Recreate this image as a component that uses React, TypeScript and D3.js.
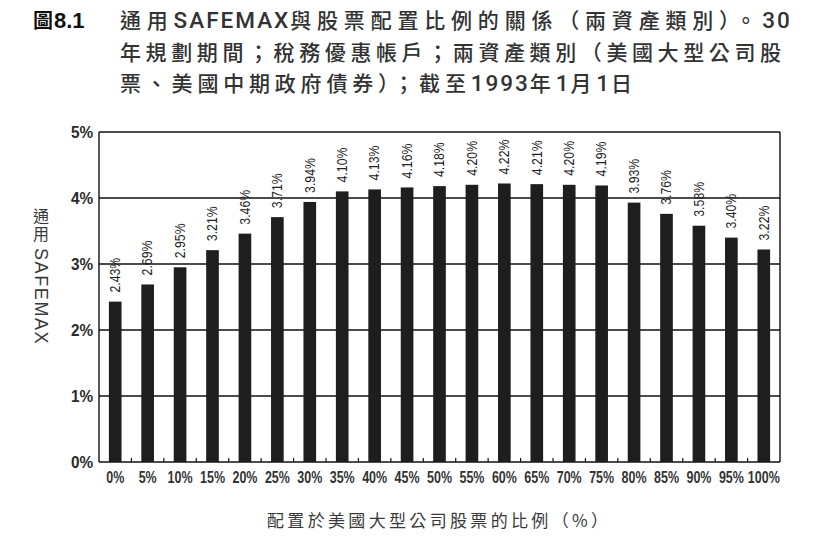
import React, { useEffect, useRef } from 'react';
import * as d3 from 'd3';

// stock share of the portfolio (x categories)
const allocations = ['0%', '5%', '10%', '15%', '20%', '25%', '30%', '35%', '40%', '45%', '50%',
  '55%', '60%', '65%', '70%', '75%', '80%', '85%', '90%', '95%', '100%'];

// universal SAFEMAX in percent for each allocation
const safemax = [2.43, 2.69, 2.95, 3.21, 3.46, 3.71, 3.94, 4.10, 4.13, 4.16, 4.18,
  4.20, 4.22, 4.21, 4.20, 4.19, 3.93, 3.76, 3.58, 3.40, 3.22];

const yTicks = [0, 1, 2, 3, 4, 5];

// caption lines, split into CJK runs and latin/digit runs
const titleLines = [
  ['通用', 'SAFEMAX', '與股票配置比例的關係（兩資產類別）。', '30'],
  ['年規劃期間；稅務優惠帳戶；兩資產類別（美國大型公司股'],
  ['票、美國中期政府債券）；截至', '1993', '年', '1', '月', '1', '日'],
];
const titleCjkSpacing = [5.8, 4.6, 4.8];

const xTitle = '配置於美國大型公司股票的比例（%）';
const yTitleCjk = '通用';
const yTitleLatin = 'SAFEMAX';

const sans = '"Liberation Sans", Arial, sans-serif';
const cjk = '"Noto Sans CJK TC", "Noto Sans CJK SC", sans-serif';
const isLatin = (s: string) => /^[A-Za-z0-9.]+$/.test(s);

const App = () => {
  const svgRef = useRef<SVGSVGElement>(null);

  useEffect(() => {
    const width = 814;
    const height = 543;
    const plot = { left: 99, right: 780, top: 132, bottom: 462 };

    const svg = d3.select(svgRef.current);
    svg.selectAll('*').remove();
    svg.attr('viewBox', [0, 0, width, height]);

    svg.append('rect').attr('width', width).attr('height', height).attr('fill', '#fff');

    // figure number
    const fig = svg.append('text')
      .attr('x', 33)
      .attr('y', 28)
      .attr('font-weight', 700)
      .attr('fill', '#111');
    fig.append('tspan').attr('font-family', cjk).attr('font-size', 20).text('圖');
    fig.append('tspan').attr('font-family', sans).attr('font-size', 22).attr('dx', 1).text('8.1');

    // caption
    titleLines.forEach((runs, i) => {
      const t = svg.append('text')
        .attr('x', 120)
        .attr('y', 28 + i * 31.5)
        .attr('font-size', 21)
        .attr('font-weight', 500)
        .attr('fill', '#333');
      runs.forEach(run => {
        const latin = isLatin(run);
        t.append('tspan')
          .attr('font-family', latin ? '"Roboto", sans-serif' : cjk)
          .attr('font-size', latin ? 22.5 : 21)
          .attr('letter-spacing', latin ? 2 : titleCjkSpacing[i])
          .text(run);
      });
    });

    const x = d3.scaleBand()
      .domain(allocations)
      .range([plot.left, plot.right])
      .paddingInner(0.61)
      .paddingOuter(0.305);

    const y = d3.scaleLinear()
      .domain([0, 5])
      .range([plot.bottom, plot.top]);

    // horizontal grid lines (the 0% and 5% ones form the frame)
    svg.append('g')
      .selectAll('line')
      .data(yTicks)
      .join('line')
      .attr('x1', plot.left)
      .attr('x2', plot.right)
      .attr('y1', d => y(d))
      .attr('y2', d => y(d))
      .attr('stroke', '#111')
      .attr('stroke-width', 1.4);

    // bars
    svg.append('g')
      .selectAll('rect')
      .data(safemax)
      .join('rect')
      .attr('x', (d, i) => x(allocations[i]))
      .attr('y', d => y(d))
      .attr('width', x.bandwidth())
      .attr('height', d => y(0) - y(d))
      .attr('fill', '#1e1e1e');

    // side borders
    [plot.left, plot.right].forEach(px => {
      svg.append('line')
        .attr('x1', px).attr('x2', px)
        .attr('y1', plot.top).attr('y2', plot.bottom)
        .attr('stroke', '#111')
        .attr('stroke-width', 1.4);
    });

    // small inward ticks between categories
    svg.append('g')
      .selectAll('line')
      .data(allocations.slice(1))
      .join('line')
      .attr('x1', (d, i) => plot.left + (i + 1) * x.step())
      .attr('x2', (d, i) => plot.left + (i + 1) * x.step())
      .attr('y1', plot.bottom)
      .attr('y2', plot.bottom - 4)
      .attr('stroke', '#111')
      .attr('stroke-width', 1.2);

    // value labels above bars, rotated and condensed
    svg.append('g')
      .selectAll('text')
      .data(safemax)
      .join('text')
      .attr('transform', (d, i) =>
        `translate(${x(allocations[i]) + x.bandwidth() / 2},${y(d) - 9}) rotate(-90) scale(0.85,1)`)
      .attr('dominant-baseline', 'central')
      .attr('font-family', sans)
      .attr('font-size', 14.5)
      .attr('fill', '#222')
      .text(d => `${d.toFixed(2)}%`);

    // y tick labels
    svg.append('g')
      .selectAll('text')
      .data(yTicks)
      .join('text')
      .attr('transform', d => `translate(93,${y(d)}) scale(0.9,1)`)
      .attr('text-anchor', 'end')
      .attr('dominant-baseline', 'central')
      .attr('font-family', sans)
      .attr('font-size', 17)
      .attr('font-weight', 700)
      .attr('fill', '#2a2a2a')
      .text(d => `${d}%`);

    // x tick labels
    svg.append('g')
      .selectAll('text')
      .data(allocations)
      .join('text')
      .attr('transform', d => `translate(${x(d) + x.bandwidth() / 2},483) scale(0.78,1)`)
      .attr('text-anchor', 'middle')
      .attr('font-family', sans)
      .attr('font-size', 16)
      .attr('font-weight', 700)
      .attr('fill', '#333')
      .text(d => d);

    // axis titles
    svg.append('text')
      .attr('x', 267)
      .attr('y', 527)
      .attr('font-family', cjk)
      .attr('font-size', 17)
      .attr('fill', '#3a3a3a')
      .attr('textLength', 341)
      .attr('lengthAdjust', 'spacing')
      .text(xTitle);

    // y title in vertical writing: CJK upright, latin turned
    const yt = svg.append('text')
      .attr('x', 41)
      .attr('y', 208)
      .style('writing-mode', 'vertical-rl')
      .attr('font-family', cjk)
      .attr('font-size', 16)
      .attr('fill', '#3a3a3a');
    yt.append('tspan').attr('letter-spacing', 2).text(yTitleCjk);
    yt.append('tspan')
      .attr('dy', 4)
      .attr('font-family', sans)
      .attr('font-size', 18)
      .attr('letter-spacing', 1.6)
      .text(yTitleLatin);
  });

  return (
    <svg
      ref={svgRef}
      width={814}
      height={543}
      style={{ position: 'absolute', left: 0, top: 0 }}
    ></svg>
  );
};

export default App;
